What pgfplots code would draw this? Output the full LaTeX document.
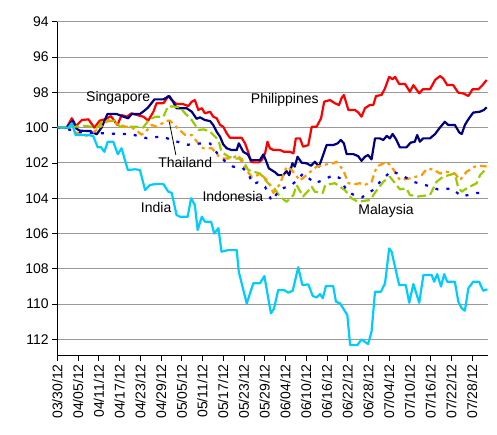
\documentclass[border=0pt]{standalone}
\usepackage{fontspec}
\setmainfont{Liberation Sans}
\usepackage{pgfplots}
\pgfplotsset{compat=1.18}
\definecolor{phl}{HTML}{FF0000}
\definecolor{sgp}{HTML}{000080}
\definecolor{tha}{HTML}{99CC00}
\definecolor{idn}{HTML}{FF9900}
\definecolor{mys}{HTML}{0000FF}
\definecolor{ind}{HTML}{00CCFF}
\begin{document}
\begin{tikzpicture}
\useasboundingbox (-57.3bp,-79.3bp) rectangle (439.7bp,355.7bp);
\begin{axis}[
  at={(0,0)}, anchor=south west,
  width=430.4bp, height=334bp, scale only axis,
  xmin=0, xmax=124.5, ymin=94, ymax=112.92,
  y dir=reverse,
  axis x line*=bottom, axis y line*=left,
  axis line style={black, line width=0.9bp, -},
  tick align=outside, major tick length=5bp,
  tick style={black, line width=0.8bp},
  ytick={94,96,...,112},
  xtick={0,6,...,120},
  xticklabels={03/30/12,04/05/12,04/11/12,04/17/12,04/23/12,04/29/12,05/05/12,05/11/12,05/17/12,05/23/12,05/29/12,06/04/12,06/10/12,06/16/12,06/22/12,06/28/12,07/04/12,07/10/12,07/16/12,07/22/12,07/28/12},
  xticklabel style={rotate=90, anchor=east, font=\fontsize{14bp}{16bp}\selectfont},
  yticklabel style={font=\fontsize{14bp}{16bp}\selectfont},
  /pgf/number format/assume math mode=true,
  ymajorgrids, grid style={draw=black!40, line width=0.9bp},
  clip=false,
  every axis plot/.append style={line width=2.2bp, line join=round},
]
% Philippines
\addplot[phl] coordinates {
(0,100)(2.7,100)(4.2,99.47)(5.4,99.9)(7.1,99.57)(9.0,99.53)(10.7,100.0)(12.3,99.6)(13.8,99.53)(15.5,99.35)(17.4,99.85)(18.6,99.29)(20.1,99.38)(21.5,99.19)(23.1,99.29)(24.9,99.38)(26.3,99.6)(27.8,99.1)(28.7,98.62)(30.7,98.62)(32.1,98.21)(33.1,98.44)(34.5,98.66)(36.3,98.66)(37.9,98.78)(38.9,98.53)(39.8,98.44)(40.8,99.0)(41.8,98.9)(42.7,99.19)(44.2,99.1)(45.1,99.38)(46.1,99.47)(47.1,99.85)(48.0,99.95)(49.0,100.32)(49.9,100.57)(53.3,100.57)(54.3,100.89)(55.2,101.37)(56.0,101.93)(57.0,101.97)(58.3,101.97)(59.1,101.84)(60.1,101.46)(60.8,100.8)(61.5,101.17)(62.5,101.27)(64.4,101.27)(65.6,101.37)(67.3,101.37)(68.3,101.46)(69.0,100.61)(70.2,100.61)(71.1,101.08)(72.6,100.99)(73.6,99.95)(75.0,99.95)(76.3,99.47)(77.2,98.53)(78.9,98.44)(80.3,98.62)(81.5,98.72)(82.2,98.34)(82.9,98.15)(84.2,99.0)(86.1,99.0)(87.1,99.15)(88.0,99.38)(89.0,98.9)(90.4,98.72)(91.4,98.72)(92.2,98.21)(93.8,98.15)(94.8,97.77)(96.0,97.12)(97.0,97.26)(97.7,97.12)(98.9,97.53)(100.6,97.53)(102.0,97.97)(103.0,97.59)(104.7,98.06)(105.7,97.83)(107.8,97.83)(109.3,97.3)(110.7,97.08)(111.6,97.21)(112.8,97.59)(114.5,97.59)(116.0,98.02)(117.4,98.06)(118.9,98.21)(120.1,97.83)(121.8,97.83)(123.0,97.59)(124.2,97.3)
};
% Singapore
\addplot[sgp] coordinates {
(0,100)(2.7,100)(4.5,99.6)(5.4,100.04)(6.6,100.18)(9.5,100.19)(11.4,100.38)(12.8,100.0)(14.5,99.23)(17.2,99.23)(19.1,99.38)(20.5,99.47)(21.5,99.23)(23.9,99.23)(25.2,99.04)(26.3,98.85)(28.1,98.4)(30.7,98.4)(32.4,98.21)(33.5,98.53)(34.5,98.9)(37.4,98.9)(38.9,99.1)(40.3,99.5)(41.3,99.42)(42.7,99.57)(44.2,99.63)(45.1,99.85)(46.1,100.23)(47.1,100.52)(48.0,100.95)(49.0,101.17)(50.4,101.27)(51.9,101.27)(52.5,100.89)(53.8,101.37)(55.1,101.52)(56.0,101.84)(58.6,101.84)(59.6,101.52)(60.3,101.84)(61.2,102.31)(63.0,102.53)(63.9,102.69)(65.4,102.69)(66.3,102.46)(67.1,102.69)(68.0,102.02)(68.7,102.21)(69.5,101.65)(70.7,101.99)(72.1,102.02)(73.4,102.16)(74.5,101.93)(75.7,102.21)(76.9,101.55)(77.9,100.99)(79.8,100.99)(81.1,100.89)(82.0,100.7)(82.9,100.89)(83.7,101.5)(85.6,101.5)(87.0,101.61)(88.0,101.88)(89.0,101.65)(89.9,101.55)(90.9,101.8)(91.9,100.61)(93.3,100.61)(94.3,100.7)(95.3,100.47)(96.2,100.61)(97.0,100.36)(98.0,100.66)(99.1,101.12)(101.0,101.12)(102.2,100.85)(103.4,100.8)(104.1,100.42)(104.9,100.8)(105.8,100.61)(107.8,100.61)(109.3,100.36)(110.5,100.04)(112.1,99.67)(113.1,99.85)(115.0,99.85)(116.3,100.28)(117.0,100.36)(117.9,99.85)(118.9,99.53)(120.3,99.15)(122.2,99.1)(123.4,99.0)(124.2,98.85)
};
% Thailand
\addplot[tha, dash pattern=on 9bp off 4bp] coordinates {
(0,100)(5.6,99.94)(8.0,99.9)(10.0,99.95)(11.5,100.0)(12.8,99.7)(14.3,99.65)(16.7,99.6)(18.1,99.95)(23.0,99.95)(24.8,100.0)(26.8,99.5)(28.7,99.38)(30.7,99.38)(32.0,98.8)(33.5,98.8)(35.5,98.85)(37.0,99.2)(38.9,99.57)(40.8,100.13)(42.4,100.1)(44.2,100.23)(46.6,100.7)(47.5,101.37)(49.5,101.65)(51.4,101.75)(53.3,101.75)(55.2,102.4)(58.6,102.6)(61.0,103.15)(63.0,103.5)(64.4,103.9)(66.3,104.2)(68.3,103.82)(69.2,103.25)(71.1,103.9)(73.6,103.35)(74.5,103.63)(76.8,103.7)(77.5,103.25)(80.3,103.15)(83.2,103.54)(85.1,104.0)(87.0,104.2)(90.5,104.1)(92.2,103.6)(94.3,103.07)(96.2,102.78)(99.1,103.5)(101.0,103.44)(102.0,103.82)(104.4,103.9)(107.8,103.82)(109.7,103.07)(111.6,102.78)(115.0,102.6)(115.9,103.35)(117.0,103.63)(118.4,103.44)(121.3,103.15)(122.3,102.69)(124.2,102.3)
};
% Indonesia
\addplot[idn, dash pattern=on 7bp off 4bp on 3bp off 4bp] coordinates {
(0,100)(2.7,100)(5.6,100.3)(8.5,100.46)(10.9,100.2)(13.8,99.75)(14.7,99.57)(17.6,99.8)(19.6,99.95)(21.0,99.95)(22.5,100.1)(24.4,100.4)(25.7,100.2)(27.3,99.85)(28.7,99.95)(30.0,99.8)(31.6,99.62)(32.6,99.6)(34.6,100.0)(37.0,100.42)(38.9,100.42)(41.0,100.95)(42.2,101.17)(44.7,101.17)(46.6,101.6)(48.0,101.75)(50.4,101.75)(52.3,101.55)(54.3,102.3)(56.2,102.78)(57.2,102.78)(58.6,102.6)(61.0,103.03)(62.5,103.7)(64.4,103.2)(66.3,102.21)(67.8,102.4)(70.2,103.0)(72.6,102.6)(75.0,102.21)(77.4,102.1)(79.8,102.02)(80.8,101.93)(82.7,102.4)(84.2,103.15)(86.1,103.2)(87.5,103.15)(88.9,103.25)(90.9,103.07)(92.4,102.21)(95.3,101.93)(96.7,102.21)(99.1,102.97)(101.4,102.9)(103.4,102.8)(105.4,102.69)(106.8,102.36)(108.7,102.36)(110.7,102.6)(112.4,102.5)(115.0,102.6)(116.5,102.97)(118.4,102.5)(120.8,102.21)(122.3,102.17)(124.2,102.2)
};
% Malaysia
\addplot[mys, dash pattern=on 3bp off 8bp] coordinates {
(0,100)(3.1,100.1)(6.6,100.25)(9.5,100.3)(12.8,100.32)(17.2,100.35)(21.5,100.38)(25.9,100.6)(30.2,100.5)(34.0,100.76)(37.8,100.97)(41.2,100.9)(44.2,100.9)(46.6,101.55)(48.5,101.9)(50.8,102.21)(53.4,102.25)(55.2,102.6)(56.6,103.2)(58.0,103.1)(60.1,103.35)(62.0,104.15)(64.4,103.5)(67.8,103.25)(69.2,103.0)(71.1,102.6)(74.5,103.15)(76.9,102.97)(79.8,102.69)(81.8,102.87)(83.8,103.6)(86.1,103.85)(88.1,103.95)(91.2,103.55)(93.9,102.95)(96.7,102.45)(100.1,102.75)(103.0,103.07)(107.3,103.3)(110.1,103.5)(114.1,103.45)(117.0,103.9)(121.3,103.7)(124.2,103.7)
};
% India
\addplot[ind] coordinates {
(0,100)(3.2,100)(4.2,99.75)(5.3,100.42)(7.1,100.42)(9.0,100.42)(10.4,100.48)(11.7,101.12)(12.6,101.1)(13.6,101.37)(14.6,100.8)(16.2,100.8)(17.5,101.5)(18.6,101.17)(20.4,102.4)(22.5,102.36)(23.9,102.4)(25.4,103.54)(26.8,103.25)(28.3,103.2)(30.7,103.2)(32.1,103.63)(33.1,103.7)(34.5,104.95)(35.5,105.05)(37.7,105.05)(38.7,104.0)(39.8,104.4)(40.6,105.8)(41.8,105.05)(42.7,105.33)(44.5,105.33)(45.4,106.0)(46.6,105.7)(47.5,107.03)(49.3,106.94)(51.9,106.94)(52.5,108.17)(54.8,109.96)(56.7,108.82)(58.6,108.82)(59.9,108.41)(61.8,110.52)(62.7,110.24)(63.9,109.2)(65.6,109.2)(66.8,109.35)(68.1,109.24)(69.7,107.91)(70.9,108.92)(72.6,108.88)(73.9,109.54)(75.0,109.62)(76.0,109.43)(76.8,109.67)(77.7,108.97)(79.8,108.97)(80.6,109.86)(81.8,109.96)(83.9,110.62)(84.7,112.32)(86.8,112.32)(88.0,112.0)(89.9,112.26)(90.9,111.56)(91.9,109.3)(93.6,109.3)(94.8,108.82)(96.0,106.84)(96.7,107.03)(98.9,108.92)(100.8,108.92)(101.8,109.92)(103.0,108.86)(104.7,109.92)(105.9,108.35)(108.3,108.35)(109.0,108.73)(109.9,108.3)(111.0,109.0)(111.9,108.3)(112.8,108.73)(115.0,108.73)(116.0,109.86)(117.0,110.24)(117.9,110.37)(118.9,109.1)(120.3,108.73)(122.0,108.73)(123.2,109.24)(124.4,109.16)
};
% labels
\draw[black, line width=0.8bp] (axis cs:32.4,99.67) -- (axis cs:34.3,101.55);
\begin{scope}[every node/.style={font=\fontsize{14bp}{16bp}\selectfont, inner sep=0pt}]
\node at (axis cs:17.6,98.29) {Singapore};
\node at (axis cs:37.0,101.97) {Thailand};
\node at (axis cs:65.8,98.44) {Philippines};
\node at (axis cs:50.8,103.88) {Indonesia};
\node at (axis cs:28.6,104.52) {India};
\node at (axis cs:95.1,104.71) {Malaysia};
\end{scope}
\end{axis}
\end{tikzpicture}
\end{document}
